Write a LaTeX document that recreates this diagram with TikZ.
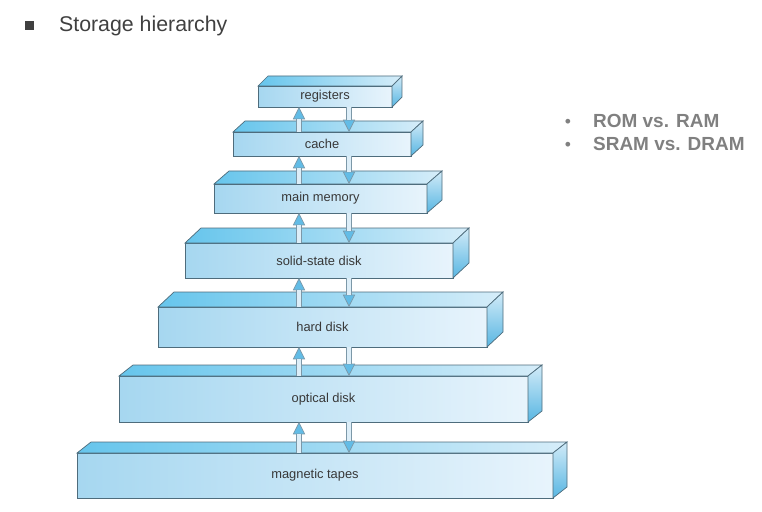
\documentclass[tikz,border=0pt]{standalone}
\usepackage{fontspec}
\setmainfont{Liberation Sans}
\usepackage{xcolor}
\usetikzlibrary{arrows.meta}

\definecolor{edgegray}{HTML}{4E6C7C}
\definecolor{frontdark}{HTML}{A6D7F0}
\definecolor{frontlight}{HTML}{E8F4FC}
\definecolor{topdark}{HTML}{66C5EC}
\definecolor{toplight}{HTML}{D6EDF9}
\definecolor{sidelight}{HTML}{D2EBF8}
\definecolor{sidedark}{HTML}{58B6E2}
\definecolor{headblue}{HTML}{62BCE6}
\definecolor{shaftfill}{HTML}{DDEEF8}
\definecolor{shaftedge}{HTML}{7C98A8}
\definecolor{labelgray}{HTML}{383838}
\definecolor{titlegray}{HTML}{404040}
\definecolor{notegray}{HTML}{808080}

\begin{document}
\begin{tikzpicture}[x=0.03cm,y=-0.03cm]
\tikzset{
	front/.style = {draw=edgegray, line width=0.6pt, left color=frontdark, right color=frontlight,
		inner sep=0, outer sep=0, text=labelgray, font=\fontsize{11}{13}\selectfont},
	topface/.style = {draw=edgegray, line width=0.6pt, left color=topdark, right color=toplight},
	sideface/.style = {draw=edgegray, line width=0.6pt, top color=sidelight, bottom color=sidedark},
	flow/.style = {draw=shaftedge, line width=5.4pt,
		-{Triangle[length=10.5pt,width=10.5pt,line width=0.6pt,fill=headblue,color=shaftedge]},
		postaction = {draw=shaftfill, line width=3.8pt, -, shorten >=10.5pt}},
	title/.style = {anchor=base west, text=titlegray, font=\fontsize{18.2}{22}\selectfont},
	note/.style = {anchor=base west, text=notegray, font=\fontsize{16.2}{20}\selectfont\bfseries},
	dot/.style = {anchor=base, text=notegray, font=\fontsize{15}{17}\selectfont}
}

\useasboundingbox (0,0) rectangle (762,512);

\fill [titlegray] (25,21) rectangle (34,30);
\node (title) [title] at (55,32) {Storage hierarchy};

\node (dot1) [dot] at (568,128) {•};
\node (rom) [note] at (589,128) {ROM vs. RAM};
\node (dot2) [dot] at (568,151) {•};
\node (sram) [note] at (589,151) {SRAM vs. DRAM};

\foreach \name/\xa/\ya/\xb/\yb/\dx/\dy/\txt in {
	reg/258/86/392/107/10/10/registers,
	cache/233/132/411/156/12/11/cache,
	mem/214/184/427/213/15/13/main memory,
	ssd/185/243/453/278/16/15/solid-state disk,
	hdd/158/307/487/347/16/15/hard disk,
	opt/119/376/528/422/14/11/optical disk,
	tape/77/453/553/498/14/11/magnetic tapes}
{
	\node (\name) [front, minimum width={(\xb-\xa)*0.03cm}, minimum height={(\yb-\ya)*0.03cm}]
		at ({(\xa+\xb)/2},{(\ya+\yb)/2}) {\txt};
	\shadedraw [topface] (\name.north west) -- ++(\dx,-\dy)
		-- ([shift={(\dx,-\dy)}]\name.north east) -- (\name.north east) -- cycle;
	\shadedraw [sideface] (\name.north east) -- ++(\dx,-\dy)
		-- ([shift={(\dx,-\dy)}]\name.south east) -- (\name.south east) -- cycle;
}

\coordinate (upx) at (299,0);
\coordinate (downx) at (349,0);

\foreach \low/\high in {cache/reg, mem/cache, ssd/mem, hdd/ssd, opt/hdd, tape/opt}
{
	\draw [flow] (\low.north -| upx) -- (\high.south -| upx);
	\draw [flow] (\high.south -| downx) -- (\low.north -| downx);
}
\end{tikzpicture}
\end{document}
